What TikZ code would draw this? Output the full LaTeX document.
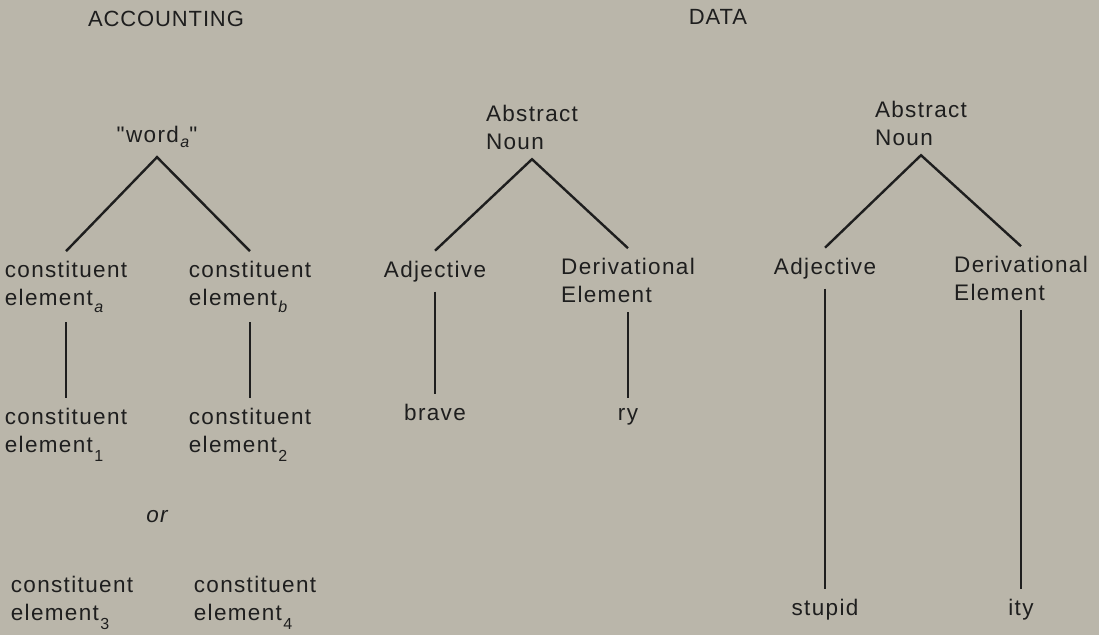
\documentclass[tikz,border=0pt]{standalone}
\usepackage{fontspec}
\setmainfont{Liberation Sans}[LetterSpace=6,Ligatures=TeXOff]
\newfontfamily\headfont{Liberation Sans}[LetterSpace=4]
\definecolor{paper}{RGB}{186,182,170}
\definecolor{ink}{RGB}{30,30,30}
\newcommand{\lsub}[2][7pt]{\kern1.5pt\raisebox{-#1}{\fontsize{16}{16}\selectfont #2}}

\tikzset{
  lbl/.style={inner sep=0pt, outer sep=10pt, anchor=base, align=left, text=ink,
    font=\fontsize{22.5}{27.5}\selectfont},
  head/.style={inner sep=0pt, anchor=base, text=ink,
    font=\headfont\fontsize{22}{26}\selectfont},
  branch/.style={draw=ink, line width=2.4pt}
}

\begin{document}
\begin{tikzpicture}[x=1pt,y=-1pt]
  \useasboundingbox[fill=paper] (0,0) rectangle (1099,635);

  \node[head] (acc) at (166,26) {ACCOUNTING};
  \node[head] (data) at (718,24) {DATA};

  % accounting
  \node[lbl] (w) at (157,142) {"word\lsub[5pt]{\itshape a}"};
  \node[lbl] (ca) at (66,305) {constituent\\element\lsub{\itshape a}};
  \node[lbl] (cb) at (250,305) {constituent\\element\lsub{\itshape b}};
  \node[lbl] (c1) at (66,452) {constituent\\element\lsub[9pt]{1}};
  \node[lbl] (c2) at (250,452) {constituent\\element\lsub[9pt]{2}};
  \node[lbl] (orw) at (157,522) {\itshape or};
  \node[lbl] (c3) at (72,620) {constituent\\element\lsub[9pt]{3}};
  \node[lbl] (c4) at (255,620) {constituent\\element\lsub[9pt]{4}};

  \draw[branch] (ca.north) -- (w.south) -- (cb.north);
  \draw[branch] (ca.south) -- (c1.north);
  \draw[branch] (cb.south) -- (c2.north);

  % data: bravery
  \node[lbl] (an1) at (532,149) {Abstract\\Noun};
  \node[lbl] (adj1) at (435,277) {Adjective};
  \node[lbl] (der1) at (628,302) {Derivational\\Element};
  \node[lbl] (brave) at (435,420) {brave};
  \node[lbl] (ry) at (628,420) {ry};

  \draw[branch] (adj1.north) -- (an1.south) -- (der1.north);
  \draw[branch] (adj1.south) -- (brave.north);
  \draw[branch] (der1.south) -- (ry.north);

  % data: stupidity
  \node[lbl] (an2) at (921,145) {Abstract\\Noun};
  \node[lbl] (adj2) at (825,274) {Adjective};
  \node[lbl] (der2) at (1021,300) {Derivational\\Element};
  \node[lbl] (stupid) at (825,615) {stupid};
  \node[lbl] (ity) at (1021,615) {ity};

  \draw[branch] (adj2.north) -- (an2.south) -- (der2.north);
  \draw[branch] (adj2.south) -- (stupid.north);
  \draw[branch] (der2.south) -- (ity.north);
\end{tikzpicture}
\end{document}
